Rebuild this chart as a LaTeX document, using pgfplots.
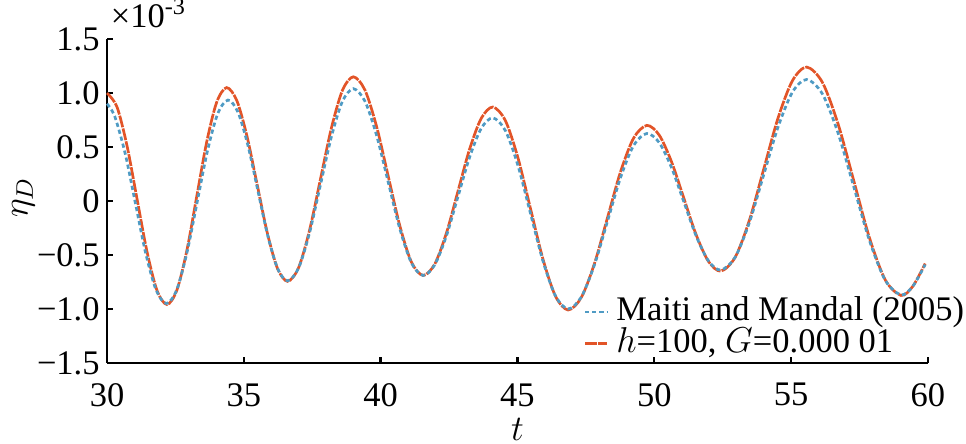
\documentclass[border=0pt]{standalone}
\usepackage{pgfplots}
\pgfplotsset{compat=1.18}
\usepackage{fontspec}
\setmainfont{Liberation Serif}

\definecolor{refblue}{RGB}{79,155,196}
\definecolor{reforange}{RGB}{226,84,40}

\begin{document}
\begin{tikzpicture}[font=\fontsize{11.5}{13}\selectfont]
\path[use as bounding box] (-35.7pt,-27pt) rectangle (286.4pt,121pt);
\begin{axis}[
  scale only axis,
  width=273.7pt, height=108pt,
  xmin=30, xmax=60, ymin=-1.5, ymax=1.5,
  axis lines=left,
  axis line style={-, line width=0.8pt},
  tick align=inside,
  major tick length=2pt,
  tick style={line width=0.8pt, black},
  xtick={30,35,40,45,50,55,60},
  xticklabels={30,35,40,45,50,55,60},
  ytick={-1.5,-1,-0.5,0,0.5,1,1.5},
  yticklabels={−1.5,−1.0,−0.5,0,0.5,1.0,1.5},
  xticklabel style={yshift=-3.3pt},
  yticklabel style={inner xsep=2.3pt},
  xlabel={$t$},
  xlabel style={at={(axis description cs:0.5,0)}, anchor=base, yshift=-25.8pt},
  ylabel={$\eta_D$},
  ylabel style={at={(axis description cs:-0.102,0.51)}, anchor=center},
  clip=false,
  reverse legend,
  legend cell align=left,
  legend style={draw=none, fill=none, inner sep=0pt,
    at={(axis description cs:0.58,0.008)}, anchor=south west,
    nodes={inner sep=0pt, text height=8.2pt, text depth=2.4pt}},
  legend image code/.code={\draw[#1] (0pt,0pt) -- (7.3pt,0pt); \path (10pt,0pt);},
]
% h=100, G=0.000 01
\addplot[reforange, line width=0.9pt, smooth, dash pattern=on 4pt off 0.4pt]
coordinates {
(30.00,1.00) (30.365,0.869) (30.73,0.51) (31.095,0.02) (31.46,-0.47) (31.825,-0.829) (32.19,-0.96)
(32.553,-0.825) (32.917,-0.458) (33.28,0.045) (33.643,0.548) (34.007,0.915) (34.37,1.05)
(34.742,0.93) (35.113,0.601) (35.485,0.153) (35.857,-0.296) (36.228,-0.625) (36.60,-0.745)
(37.00,-0.618) (37.40,-0.271) (37.80,0.203) (38.20,0.676) (38.60,1.023) (39.00,1.15)
(39.425,1.027) (39.85,0.69) (40.275,0.23) (40.70,-0.23) (41.125,-0.567) (41.55,-0.69)
(41.975,-0.585) (42.40,-0.30) (42.825,0.09) (43.25,0.48) (43.675,0.765) (44.10,0.87)
(44.558,0.744) (45.017,0.40) (45.475,-0.07) (45.933,-0.54) (46.392,-0.884) (46.85,-1.01)
(47.33,-0.895) (47.81,-0.583) (48.29,-0.155) (48.77,0.273) (49.25,0.585) (49.73,0.70)
(50.18,0.61) (50.63,0.363) (51.08,0.025) (51.53,-0.313) (51.98,-0.56) (52.43,-0.65)
(52.953,-0.523) (53.477,-0.178) (54.00,0.295) (54.523,0.768) (55.047,1.113) (55.57,1.24)
(56.145,1.098) (56.72,0.711) (57.295,0.183) (57.87,-0.346) (58.445,-0.733) (59.02,-0.875)
(59.45,-0.79) (59.9,-0.58)
};
\addlegendentry{$h$=100, $G$=0.000 01}
% Maiti and Mandal (2005)
\addplot[refblue, line width=0.9pt, smooth, dash pattern=on 1.4pt off 1pt]
coordinates {
(30.0,0.90) (30.278,0.785) (30.657,0.445) (31.035,-0.02) (31.413,-0.485) (31.792,-0.825) (32.17,-0.95)
(32.545,-0.824) (32.92,-0.479) (33.295,-0.008) (33.67,0.464) (34.045,0.809) (34.42,0.935)
(34.783,0.823) (35.147,0.516) (35.51,0.098) (35.873,-0.321) (36.237,-0.628) (36.60,-0.74)
(37.00,-0.621) (37.40,-0.295) (37.80,0.15) (38.20,0.595) (38.60,0.921) (39.00,1.04)
(39.425,0.924) (39.85,0.608) (40.275,0.175) (40.70,-0.258) (41.125,-0.574) (41.55,-0.69)
(41.975,-0.592) (42.40,-0.325) (42.825,0.04) (43.25,0.405) (43.675,0.672) (44.10,0.77)
(44.558,0.651) (45.017,0.328) (45.475,-0.115) (45.933,-0.558) (46.392,-0.881) (46.85,-1.00)
(47.33,-0.891) (47.81,-0.594) (48.29,-0.188) (48.77,0.219) (49.25,0.516) (49.73,0.625)
(50.18,0.540) (50.63,0.309) (51.08,-0.008) (51.53,-0.324) (51.98,-0.555) (52.43,-0.64)
(52.953,-0.522) (53.477,-0.199) (54.00,0.243) (54.523,0.684) (55.047,1.007) (55.57,1.125)
(56.145,0.991) (56.72,0.626) (57.295,0.128) (57.87,-0.371) (58.445,-0.736) (59.02,-0.87)
(59.45,-0.79) (59.9,-0.59)
};
\addlegendentry{Maiti and Mandal (2005)}
\node[anchor=base west, inner sep=0pt] at (rel axis cs:0.004,1.035) {×10\textsuperscript{-3}};
\end{axis}
\end{tikzpicture}
\end{document}
